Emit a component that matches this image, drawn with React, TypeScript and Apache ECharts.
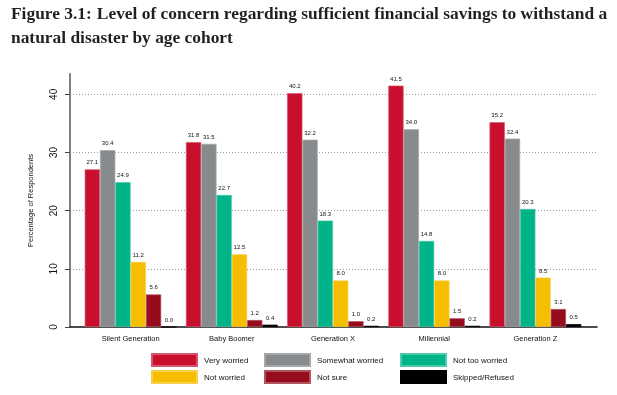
import React, { useEffect, useRef } from "react";
import * as echarts from "echarts";

const categories = ["Silent Generation", "Baby Boomer", "Generation X", "Millennial", "Generation Z"];
const seriesNames = ["Very worried", "Somewhat worried", "Not too worried", "Not worried", "Not sure", "Skipped/Refused"];
const veryWorried = [27.1, 31.8, 40.2, 41.5, 35.2];
const somewhatWorried = [30.4, 31.5, 32.2, 34.0, 32.4];
const notTooWorried = [24.9, 22.7, 18.3, 14.8, 20.3];
const notWorried = [11.2, 12.5, 8.0, 8.0, 8.5];
const notSure = [5.6, 1.2, 1.0, 1.5, 3.1];
const skipped = [0.0, 0.4, 0.2, 0.2, 0.5];
const yTicks = [0, 10, 20, 30, 40];

const seriesValues = [veryWorried, somewhatWorried, notTooWorried, notWorried, notSure, skipped];
const colors = ["#C8102E", "#888B8D", "#00B388", "#F5BE00", "#960C1C", "#000000"];
const borders = ["#D9566A", "#A5A7A9", "#4CCAAC", "#F8D04C", "#B05560", "#000000"];

const SANS = "Liberation Sans, Arial, sans-serif";
const SERIF = "Liberation Serif, Times New Roman, serif";

export default function App() {
  const ref = useRef<HTMLDivElement>(null);
  useEffect(() => {
    if (!ref.current) return;
    const chart = echarts.init(ref.current, undefined, { renderer: "svg" });
    const legendPos = [
      [151, 353], [264, 353], [400, 353],
      [151, 370], [264, 370], [400, 370],
    ];
    chart.setOption({
      animation: false,
      title: {
        left: 11,
        top: 1,
        padding: 0,
        text: "{b|Figure 3.1:} {r|Level of concern regarding sufficient financial savings to withstand a}\n{r|natural disaster by age cohort}",
        textStyle: {
          rich: {
            b: { fontFamily: SERIF, fontSize: 17.4, fontWeight: "bold", color: "#231F20", lineHeight: 24 },
            r: { fontFamily: SERIF, fontSize: 17.4, color: "#231F20", lineHeight: 24 },
          },
        },
      },
      legend: seriesNames.map((name, i) => ({
        data: [name],
        left: legendPos[i][0],
        top: legendPos[i][1],
        padding: 0,
        itemWidth: 45,
        itemHeight: 12,
        icon: "rect",
        selectedMode: false,
        textStyle: { fontFamily: SANS, fontSize: 8, color: "#111", padding: [0, 0, 0, 2] },
      })),
      grid: [
        { left: 70, right: 20, top: 74, bottom: 68 },
        { left: 80, right: 31, top: 74, bottom: 68 },
      ],
      xAxis: [
        {
          type: "category",
          gridIndex: 0,
          data: [""],
          axisLine: { show: true, lineStyle: { color: "#111", width: 1.5 } },
          axisTick: { show: false },
          axisLabel: { show: false },
          splitLine: { show: false },
        },
        {
          type: "category",
          gridIndex: 1,
          data: categories,
          axisLine: { show: false },
          axisTick: { show: false },
          axisLabel: { fontFamily: SANS, fontSize: 7.5, color: "#111", margin: 7 },
        },
      ],
      yAxis: [
        {
          type: "value",
          gridIndex: 0,
          min: 0,
          max: 43.5,
          interval: 10,
          name: "Percentage of Respondents",
          nameLocation: "middle",
          nameGap: 36,
          nameTextStyle: { fontFamily: SANS, fontSize: 7.5, color: "#111" },
          axisLine: { show: true, lineStyle: { color: "#808080", width: 2 } },
          axisTick: { show: true, length: 5, lineStyle: { color: "#444", width: 1 }, customValues: yTicks },
          axisLabel: {
            rotate: 90,
            fontFamily: SANS,
            fontSize: 10,
            color: "#111",
            margin: 12,
            customValues: yTicks,
          },
          splitLine: {
            show: true,
            showMinLine: false,
            lineStyle: { color: "#9a9a9a", type: [1, 2], width: 1 },
          },
        },
        {
          type: "value",
          gridIndex: 1,
          min: 0,
          max: 43.5,
          show: false,
          splitLine: { show: false },
        },
      ],
      series: seriesNames.map((name, i) => ({
        name,
        type: "bar",
        xAxisIndex: 1,
        yAxisIndex: 1,
        data: seriesValues[i],
        barWidth: 15.3,
        barGap: "0%",
        itemStyle: { color: colors[i], borderColor: borders[i], borderWidth: 0.7 },
        label: {
          show: true,
          position: "top",
          distance: 4,
          fontFamily: SANS,
          fontSize: 6,
          color: "#111",
          formatter: (p: any) => Number(p.value).toFixed(1),
        },
      })),
    });
    return () => chart.dispose();
  }, []);
  return <div ref={ref} style={{ position: "fixed", left: 0, top: 0, width: 617, height: 395 }} />;
}
